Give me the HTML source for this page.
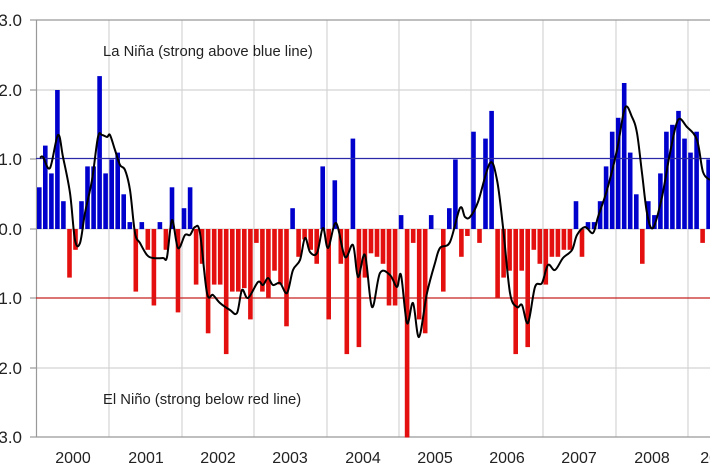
<!DOCTYPE html>
<html><head><meta charset="utf-8"><style>
html,body{margin:0;padding:0;background:#fff;width:710px;height:473px;overflow:hidden}
svg text{font-family:"Liberation Sans",sans-serif;fill:#222}
</style></head><body>
<svg id="s" width="710" height="473" xmlns="http://www.w3.org/2000/svg">
<g stroke="#d4d4d4" stroke-width="1.2">
<line x1="36" y1="90" x2="710" y2="90"/><line x1="36" y1="368" x2="710" y2="368"/>
<line x1="109" y1="20" x2="109" y2="437"/><line x1="182" y1="20" x2="182" y2="437"/>
<line x1="254" y1="20" x2="254" y2="437"/><line x1="327" y1="20" x2="327" y2="437"/>
<line x1="399" y1="20" x2="399" y2="437"/><line x1="471" y1="20" x2="471" y2="437"/>
<line x1="543" y1="20" x2="543" y2="437"/><line x1="616" y1="20" x2="616" y2="437"/>
<line x1="688" y1="20" x2="688" y2="437"/>
</g>
<line x1="36" y1="229" x2="710" y2="229" stroke="#ccc"/>
<g stroke="#999" stroke-width="1.2">
<line x1="36" y1="20" x2="710" y2="20"/><line x1="36" y1="437" x2="710" y2="437"/>
<line x1="36.5" y1="20" x2="36.5" y2="437"/>
<line x1="30" y1="20" x2="36" y2="20"/><line x1="30" y1="90" x2="36" y2="90"/><line x1="30" y1="159" x2="36" y2="159"/><line x1="30" y1="229" x2="36" y2="229"/><line x1="30" y1="298" x2="36" y2="298"/><line x1="30" y1="368" x2="36" y2="368"/><line x1="30" y1="437" x2="36" y2="437"/>
</g>
<g id="bars"></g>
<line x1="36" y1="158.5" x2="710" y2="158.5" stroke="#2a2aa8" stroke-width="1.2"/>
<line x1="36" y1="298" x2="710" y2="298" stroke="#c82020" stroke-width="1.2"/>
<path id="ln" fill="none" stroke="#000" stroke-width="2" stroke-linejoin="round"/>
<g font-size="17" text-anchor="end">
<text x="22" y="26">3.0</text><text x="22" y="96">2.0</text><text x="22" y="165">1.0</text><text x="22" y="235">0.0</text><text x="22" y="304">1.0</text><text x="22" y="374">2.0</text><text x="22" y="443">3.0</text>
</g>
<g font-size="16" text-anchor="middle">
<text x="73" y="463">2000</text><text x="146" y="463">2001</text><text x="218" y="463">2002</text><text x="290" y="463">2003</text><text x="363" y="463">2004</text><text x="435" y="463">2005</text><text x="507" y="463">2006</text><text x="579" y="463">2007</text><text x="652" y="463">2008</text><text x="718" y="463">2009</text>
</g>
<text x="103" y="56" font-size="14.8">La Niña (strong above blue line)</text>
<text x="103" y="404" font-size="14.8">El Niño (strong below red line)</text>
</svg>
<script>
var v=[0.6,1.2,0.8,2.0,0.4,-0.7,-0.3,0.4,0.9,0.9,2.2,0.8,
1.0,1.1,0.5,0.1,-0.9,0.1,-0.3,-1.1,0.1,-0.3,0.6,-1.2,
0.3,0.6,-0.8,-0.5,-1.5,-0.8,-0.8,-1.8,-0.9,-0.9,-0.85,-1.3,
-0.2,-0.9,-1.0,-0.6,-0.8,-1.4,0.3,-0.4,-0.15,-0.3,-0.5,0.9,
-1.3,0.7,-0.5,-1.8,1.3,-1.7,-0.7,-0.35,-0.4,-0.5,-1.1,-1.1,
0.2,-3.0,-0.2,-1.3,-1.5,0.2,0,-0.9,0.3,1.0,-0.4,-0.1,
1.4,-0.2,1.3,1.7,-1.0,-0.7,-0.6,-1.8,-0.6,-1.7,-0.3,-0.5,
-0.8,-0.4,-0.4,-0.3,-0.3,0.4,-0.4,0.1,0.1,0.4,0.9,1.4,
1.6,2.1,1.1,0.5,-0.5,0.4,0.2,0.8,1.4,1.5,1.7,1.3,
1.1,1.4,-0.2,1.0];
var g=document.getElementById('bars'),h='';
for(var i=0;i<v.length;i++){var x=37+6.03*i,y=229,hh=Math.abs(v[i])*69.5;
h+='<rect x="'+x.toFixed(1)+'" y="'+(v[i]>0?y-hh:y).toFixed(1)+'" width="4.6" height="'+hh.toFixed(1)+'" fill="'+(v[i]>0?'#0000cc':'#e41010')+'"/>';}
g.innerHTML=h;
var p=[40,158,43,157,50,168,58,135,63,157,70,193,75,240,80,243,85,213,92,180,98,137,102,135,107,137,110,135,115,150,120,165,125,170,130,190,135,233,140,243,147,255,153,258,163,258,167,257,172,220,178,248,185,235,190,235,195,227,200,233,207,293,213,295,220,303,230,310,237,313,242,290,248,298,258,282,263,285,268,278,273,285,280,283,287,293,293,270,300,260,305,238,310,252,317,253,323,228,328,248,336,223,345,257,353,245,358,277,365,255,372,307,380,273,390,275,397,287,401,275,407,323,413,303,419,337,427,293,435,263,440,248,450,242,460,208,465,217,470,217,478,202,490,163,497,180,503,227,510,293,517,307,522,305,528,323,535,287,542,283,548,265,555,270,563,258,572,250,577,235,585,227,593,233,598,217,607,190,617,150,625,108,632,117,637,133,642,173,647,213,653,228,662,197,670,153,678,120,687,127,697,140,703,172,710,180];
var P=[];for(var k=0;k<p.length;k+=2)P.push([p[k],p[k+1]]);
var d='M'+P[0][0]+','+P[0][1];
for(var k=0;k<P.length-1;k++){var a=P[Math.max(k-1,0)],b=P[k],c=P[k+1],e=P[Math.min(k+2,P.length-1)];
d+=' C'+(b[0]+(c[0]-a[0])/6).toFixed(1)+','+(b[1]+(c[1]-a[1])/6).toFixed(1)+' '+(c[0]-(e[0]-b[0])/6).toFixed(1)+','+(c[1]-(e[1]-b[1])/6).toFixed(1)+' '+c[0]+','+c[1];}
document.getElementById('ln').setAttribute('d',d);
</script>
</body></html>
